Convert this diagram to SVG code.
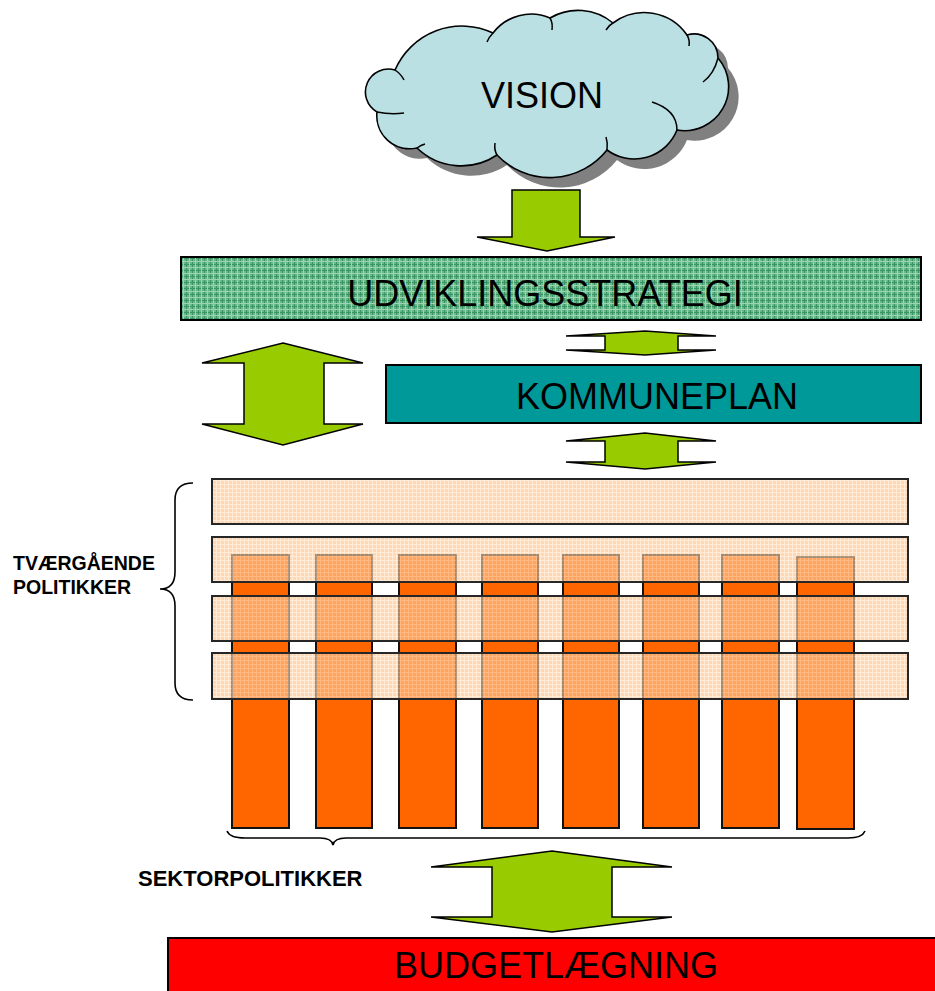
<svg xmlns="http://www.w3.org/2000/svg" width="935" height="991" viewBox="0 0 935 991">
<style>
.big{font-family:"Liberation Sans",Arial,sans-serif;font-size:36px;fill:#000;text-anchor:middle}
.lbl{font-family:"Liberation Sans",Arial,sans-serif;font-weight:bold;fill:#000}
.arrow{fill:#99CC00;stroke:#000;stroke-width:1.5;stroke-linejoin:miter}
.band{fill:url(#peachGrid);fill-opacity:0.66;stroke:#262626;stroke-width:2}
.pillar{fill:#FF6600;stroke:#111;stroke-width:2}
.brace{fill:none;stroke:#000;stroke-width:1.6}
.crease{fill:none;stroke:#000;stroke-width:1.5}
</style>
<defs>
<pattern id="greenGrid" width="6" height="6" patternUnits="userSpaceOnUse">
<rect width="6" height="6" fill="#68b88b"/>
<path d="M0 0.5H6M0.5 0V6" stroke="#3a9464" stroke-width="1"/>
<path d="M0 3.5H6M3.5 0V6" stroke="#9ad4b0" stroke-width="1"/>
</pattern>
<pattern id="peachGrid" width="4" height="4" patternUnits="userSpaceOnUse">
<rect width="4" height="4" fill="#FFC48C"/>
<path d="M0 0.5H4M0.5 0V4" stroke="#FFE2C4" stroke-width="1"/>
</pattern>
<path id="cloud" d="M395 70 A73 73 0 0 1 493 33 A48 48 0 0 1 550 18 A55 55 0 0 1 613 23 A52 52 0 0 1 687 35 A24 24 0 0 1 718 58 A44 44 0 0 1 677 130 A46 46 0 0 1 607 150 A73 73 0 0 1 497 155 A64 64 0 0 1 417 148 A33 33 0 0 1 377 112 A23 23 0 0 1 395 70 Z"/>
</defs>
<rect width="935" height="991" fill="#fff"/>

<g id="vision">
<use href="#cloud" transform="translate(10,10)" fill="#808080"/>
<use href="#cloud" fill="#BBE0E3" stroke="#000" stroke-width="1.6"/>
<path class="crease" d="M395 70 Q401 74 404 80"/>
<path class="crease" d="M493 33 Q489 37 487 42"/>
<path class="crease" d="M550 18 Q553 23 552 30"/>
<path class="crease" d="M613 23 Q609 25 606 30"/>
<path class="crease" d="M687 35 Q690 40 689 46"/>
<path class="crease" d="M718 58 Q714 74 703 82"/>
<path class="crease" d="M677 130 Q677 110 652 102"/>
<path class="crease" d="M607 150 Q608 143 606 137"/>
<path class="crease" d="M497 155 Q494 150 495 143"/>
<path class="crease" d="M417 148 Q421 145 425 144"/>
<path class="crease" d="M377 112 Q391 115 404 113"/>
<text class="big" x="542" y="108">VISION</text>
</g>

<g id="udviklingsstrategi">
<rect x="181" y="257" width="740" height="63" fill="url(#greenGrid)" stroke="#000" stroke-width="2"/>
<text class="big" x="545" y="306">UDVIKLINGSSTRATEGI</text>
</g>

<g id="kommuneplan">
<rect x="386" y="365" width="535" height="58" fill="#009999" stroke="#000" stroke-width="2"/>
<text class="big" x="657" y="409">KOMMUNEPLAN</text>
</g>

<g id="sektorpolitikker">
<rect class="pillar" x="232" y="555" width="57" height="273"/>
<rect class="pillar" x="316" y="555" width="56" height="273"/>
<rect class="pillar" x="399" y="555" width="57" height="273"/>
<rect class="pillar" x="482" y="555" width="56" height="273"/>
<rect class="pillar" x="563" y="555" width="56" height="273"/>
<rect class="pillar" x="643" y="555" width="56" height="273"/>
<rect class="pillar" x="722" y="555" width="57" height="273"/>
<rect class="pillar" x="797" y="557" width="57" height="272"/>
</g>

<g id="tvaergaende">
<rect class="band" x="212" y="479" width="696" height="45"/>
<rect class="band" x="212" y="537" width="696" height="45"/>
<rect class="band" x="212" y="596" width="696" height="45"/>
<rect class="band" x="212" y="653" width="696" height="46"/>
</g>

<g id="braces">
<path class="brace" d="M193 483 C181 483 175 489 175 500 L175 572 C175 584 169 589 160 589 C169 589 175 594 175 606 L175 683 C175 694 181 700 193 700"/>
<path class="brace" d="M227 831 C229 836 235 838 245 838 L320 838 C328 838 332 840 333 845 C334 840 338 838 346 838 L848 838 C858 838 863 836 865 831"/>
</g>

<g id="labels">
<text class="lbl" x="13" y="570" font-size="19.5">TVÆRGÅENDE</text>
<text class="lbl" x="13" y="594" font-size="19.5">POLITIKKER</text>
<text class="lbl" x="138" y="886" font-size="22">SEKTORPOLITIKKER</text>
</g>

<g id="budgetlaegning">
<rect x="168" y="938" width="770" height="60" fill="#FF0000" stroke="#000" stroke-width="2"/>
<text class="big" x="556" y="978">BUDGETLÆGNING</text>
</g>

<g id="connectors">
<polygon class="arrow" points="512,190 580,190 580,237 615,237 547,251 477,237 512,237"/>
<polygon class="arrow" points="645,331 716,336 678,336 678,350 716,350 645,355 566,350 605,350 605,336 566,336"/>
<polygon class="arrow" points="645,433 716,441 678,441 678,462 716,462 645,469 566,462 605,462 605,441 566,441"/>
<polygon class="arrow" points="283,343 363,363 324,363 324,424 363,424 283,445 202,424 244,424 244,363 202,363"/>
<polygon class="arrow" points="552,851 672,867 612,867 612,917 672,917 552,932 431,917 492,917 492,867 431,867"/>
</g>
</svg>
